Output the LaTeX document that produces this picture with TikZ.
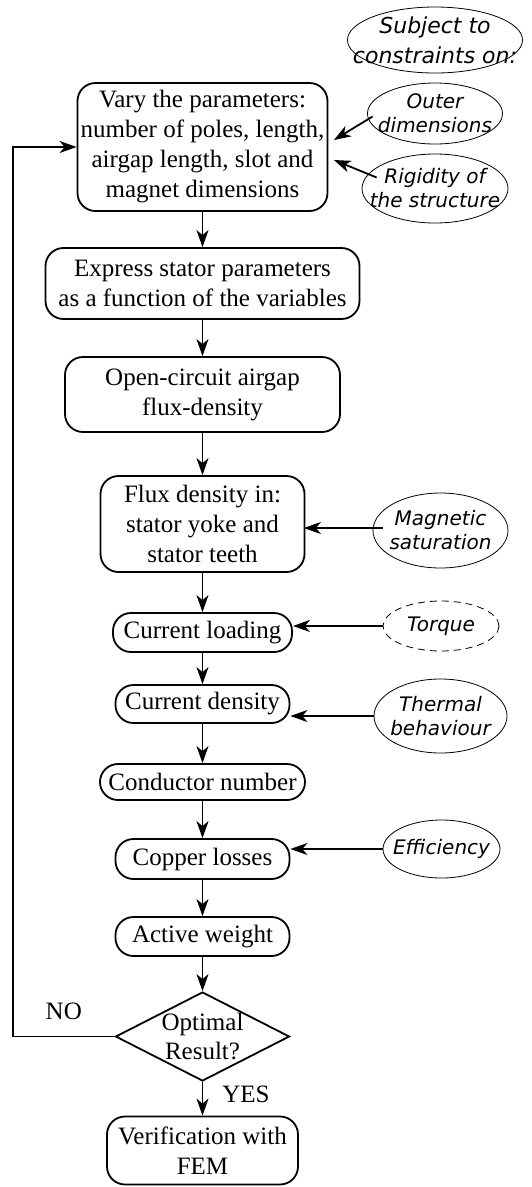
\documentclass[tikz,border=0pt]{standalone}
\usepackage{fontspec}
\setmainfont{Liberation Serif}
\newfontfamily\ellfont{DejaVu Sans}
\usetikzlibrary{shapes.geometric,arrows.meta,calc}

\begin{document}
\begin{tikzpicture}[x=1pt,y=-1pt,
  proc/.style 2 args={draw,line width=1.8pt,rounded corners=18pt,align=center,inner sep=2pt,minimum width=#1,minimum height=#2,font=\fontsize{25}{30}\selectfont},
  cons/.style 2 args={ellipse,draw,line width=0.8pt,inner sep=0pt,minimum width=#1,minimum height=#2},
  ctext/.style={align=center,inner sep=0pt,font=\ellfont\itshape\fontsize{20}{24}\selectfont},
  decision/.style={diamond,draw,line width=1.8pt,inner sep=0pt,minimum width=174pt,minimum height=89pt},
  answer/.style={inner sep=0pt,font=\fontsize{25}{30}\selectfont},
  arr/.style={line width=1.8pt,-{Stealth[length=17pt,width=12pt,inset=5pt]}}]
\useasboundingbox (0,0) rectangle (531,1187);

% main chain
\node[proc={250pt}{128pt}] (vary) at (202.5,147) {Vary the parameters:\\number of poles, length,\\airgap length, slot and\\magnet dimensions};
\node[proc={314pt}{71pt}] (expr) at (202.5,283.5) {Express stator parameters\\as a function of the variables};
\node[proc={275pt}{75pt}] (open) at (202.5,394.5) {Open-circuit airgap\\flux-density};
\node[proc={204pt}{96pt}] (flux) at (202.5,524) {Flux density in:\\stator yoke and\\stator teeth};
\node[proc={179pt}{39pt}] (load) at (202.5,632.5) {Current loading};
\node[proc={174pt}{38pt}] (dens) at (202.5,704) {Current density};
\node[proc={205pt}{36pt}] (cond) at (202.5,782) {Conductor number};
\node[proc={174pt}{40pt}] (copper) at (202.5,859) {Copper losses};
\node[proc={174pt}{39pt}] (weight) at (202.5,936.5) {Active weight};
\node[decision,label={[align=center,inner sep=0pt,font=\fontsize{25}{29}\selectfont]center:Optimal\\Result?}] (opt) at (202.5,1036.5) {};
\node[proc={191pt}{68pt}] (fem) at (202.5,1150.5) {Verification with\\FEM};

% constraints
\node[cons={175pt}{66pt},label={[ctext,font=\ellfont\itshape\fontsize{22}{30}\selectfont]center:Subject to\\constraints on:}] (subj) at (435,40) {};
\node[cons={135pt}{61pt},label={[ctext]center:Outer\\dimensions}] (outer) at (435,113.5) {};
\node[cons={146pt}{69pt},label={[ctext]center:Rigidity of\\the structure}] (rigid) at (435,188.5) {};
\node[cons={135pt}{75pt},label={[ctext]center:Magnetic\\saturation}] (magsat) at (440.5,530.5) {};
\node[cons={116pt}{50pt},dashed,dash pattern=on 7pt off 5pt,label={[ctext]center:Torque}] (torque) at (441,626) {};
\node[cons={133pt}{74pt},label={[ctext]center:Thermal\\behaviour}] (thermal) at (440.5,716) {};
\node[cons={117pt}{58pt},label={[ctext]center:Efficiency}] (eff) at (441.5,849) {};

\draw[arr] (vary) -- (expr);
\draw[arr] (expr) -- (open);
\draw[arr] (open) -- (flux);
\draw[arr] (flux) -- (load);
\draw[arr] (load) -- (dens);
\draw[arr] (dens) -- (cond);
\draw[arr] (cond) -- (copper);
\draw[arr] (copper) -- (weight);
\draw[arr] (weight) -- (opt);
\draw[arr] (opt) -- node[answer,right=19pt,yshift=4pt] {YES} (fem);

% loop back
\coordinate (back) at (13,1036.5);
\draw[arr] (opt.west) -- node[answer,above=16pt] {NO} (back) |- (vary.west);

\draw[arr] ($(outer.west)+(5.5,3)$) -- ($(vary.east)+(5.5,-7)$);
\draw[arr] ($(rigid.west)+(15,-11)$) -- ($(vary.east)+(5.5,13)$);
\draw[arr] ($(magsat.west)+(10,-2.5)$) -- ($(flux.east)+(-1.5,4)$);
\draw[arr] (torque.west) -- (torque.west -| load.east);
\draw[arr] (thermal.west) -- (thermal.west -| dens.east);
\draw[arr] (eff.west) -- (eff.west -| copper.east);
\end{tikzpicture}
\end{document}
